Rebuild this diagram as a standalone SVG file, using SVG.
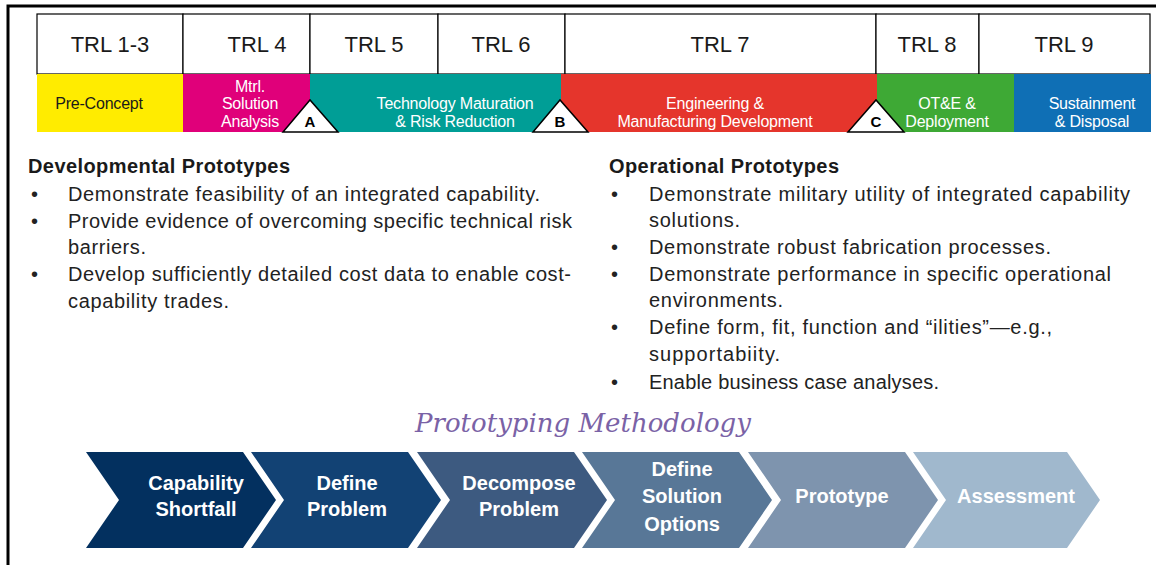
<svg xmlns="http://www.w3.org/2000/svg" width="1156" height="565" viewBox="0 0 1156 565">
<style>
.trl{font-family:"Liberation Sans",Arial,sans-serif;font-size:22px;fill:#1a1a1a;text-anchor:middle}
.band{font-family:"Liberation Sans",Arial,sans-serif;font-size:16px;fill:#fff;text-anchor:middle;letter-spacing:-0.2px}
.tri{fill:#fff;stroke:#000;stroke-width:1.5}
.trit{font-family:"Liberation Sans",Arial,sans-serif;font-size:15px;font-weight:bold;fill:#000;text-anchor:middle}
.h{font-family:"Liberation Sans",Arial,sans-serif;font-size:20px;font-weight:bold;fill:#1a1a1a}
.b{font-family:"Liberation Sans",Arial,sans-serif;font-size:20px;fill:#222}
.title{font-family:"DejaVu Serif","Liberation Serif",serif;font-style:italic;font-size:26px;fill:#7a62a6;text-anchor:middle}
.cv{font-family:"Liberation Sans",Arial,sans-serif;font-size:20px;font-weight:bold;fill:#fff;text-anchor:middle}
.box{fill:#fff;stroke:#000;stroke-width:1.2}
</style>
<rect width="1156" height="565" fill="#fff"/>
<path d="M8 565 V6 H1156" fill="none" stroke="#000" stroke-width="3"/>

<g id="trl-row">
<rect class="box" x="37" y="14" width="146" height="60"/>
<rect class="box" x="183" y="14" width="127" height="60"/>
<rect class="box" x="310" y="14" width="128" height="60"/>
<rect class="box" x="438" y="14" width="127" height="60"/>
<rect class="box" x="565" y="14" width="311" height="60"/>
<rect class="box" x="876" y="14" width="103" height="60"/>
<rect class="box" x="979" y="14" width="171" height="60"/>
<text class="trl" x="110" y="52">TRL 1-3</text>
<text class="trl" x="257" y="52">TRL 4</text>
<text class="trl" x="374" y="52">TRL 5</text>
<text class="trl" x="501" y="52">TRL 6</text>
<text class="trl" x="720" y="52">TRL 7</text>
<text class="trl" x="927" y="52">TRL 8</text>
<text class="trl" x="1064" y="52">TRL 9</text>
</g>

<g id="phase-band">
<rect x="37" y="74" width="146" height="58" fill="#ffec00"/>
<rect x="183" y="74" width="127" height="58" fill="#e0007a"/>
<rect x="310" y="74" width="251" height="58" fill="#009e96"/>
<rect x="561" y="74" width="316" height="58" fill="#e5352c"/>
<rect x="877" y="74" width="137" height="58" fill="#3ea935"/>
<rect x="1014" y="74" width="137" height="58" fill="#0f6fb5"/>
<text class="band" x="99" y="109" style="fill:#1a1a1a">Pre-Concept</text>
<text class="band" x="250" y="92">Mtrl.</text>
<text class="band" x="250" y="109">Solution</text>
<text class="band" x="250" y="127">Analysis</text>
<text class="band" x="455" y="109">Technology Maturation</text>
<text class="band" x="455" y="127">&amp; Risk Reduction</text>
<text class="band" x="715" y="109">Engineering &amp;</text>
<text class="band" x="715" y="127">Manufacturing Development</text>
<text class="band" x="947" y="109">OT&amp;E &amp;</text>
<text class="band" x="947" y="127">Deployment</text>
<text class="band" x="1092" y="109">Sustainment</text>
<text class="band" x="1092" y="127">&amp; Disposal</text>
</g>

<g id="milestone-a"><polygon class="tri" points="283,132 310,100 338,132"/><text class="trit" x="310" y="127">A</text></g>
<g id="milestone-b"><polygon class="tri" points="533,132 560,100 588,132"/><text class="trit" x="560" y="127">B</text></g>
<g id="milestone-c"><polygon class="tri" points="848,132 876,100 904,132"/><text class="trit" x="876" y="127">C</text></g>

<g id="developmental">
<text class="h" x="28" y="173" textLength="262" lengthAdjust="spacing">Developmental Prototypes</text>
<text class="b" x="31" y="201">•</text><text class="b" x="68" y="201" textLength="472" lengthAdjust="spacing">Demonstrate feasibility of an integrated capability.</text>
<text class="b" x="31" y="228">•</text><text class="b" x="68" y="228" textLength="504" lengthAdjust="spacing">Provide evidence of overcoming specific technical risk</text>
<text class="b" x="68" y="254" textLength="78" lengthAdjust="spacing">barriers.</text>
<text class="b" x="31" y="281">•</text><text class="b" x="68" y="281" textLength="503" lengthAdjust="spacing">Develop sufficiently detailed cost data to enable cost-</text>
<text class="b" x="68" y="308" textLength="161" lengthAdjust="spacing">capability trades.</text>
</g>

<g id="operational">
<text class="h" x="609" y="173" textLength="230" lengthAdjust="spacing">Operational Prototypes</text>
<text class="b" x="611" y="201">•</text><text class="b" x="649" y="201" textLength="481" lengthAdjust="spacing">Demonstrate military utility of integrated capability</text>
<text class="b" x="649" y="227" textLength="91" lengthAdjust="spacing">solutions.</text>
<text class="b" x="611" y="254">•</text><text class="b" x="649" y="254" textLength="402" lengthAdjust="spacing">Demonstrate robust fabrication processes.</text>
<text class="b" x="611" y="281">•</text><text class="b" x="649" y="281" textLength="462" lengthAdjust="spacing">Demonstrate performance in specific operational</text>
<text class="b" x="649" y="307" textLength="134" lengthAdjust="spacing">environments.</text>
<text class="b" x="611" y="334">•</text><text class="b" x="649" y="334" textLength="403" lengthAdjust="spacing">Define form, fit, function and “ilities”—e.g.,</text>
<text class="b" x="649" y="361" textLength="131" lengthAdjust="spacing">supportabiity.</text>
<text class="b" x="611" y="389">•</text><text class="b" x="649" y="389" textLength="290" lengthAdjust="spacing">Enable business case analyses.</text>
</g>

<text class="title" x="583" y="432">Prototyping Methodology</text>

<g id="step1"><polygon points="86,452 243,452 276,500 243,548 86,548 119,500" fill="#03305f"/>
<text class="cv" x="196" y="490">Capability</text><text class="cv" x="196" y="516">Shortfall</text></g>
<g id="step2"><polygon points="251,452 408,452 441,500 408,548 251,548 284,500" fill="#124274"/>
<text class="cv" x="347" y="490">Define</text><text class="cv" x="347" y="516">Problem</text></g>
<g id="step3"><polygon points="417,452 574,452 607,500 574,548 417,548 450,500" fill="#3d5a80"/>
<text class="cv" x="519" y="490">Decompose</text><text class="cv" x="519" y="516">Problem</text></g>
<g id="step4"><polygon points="582,452 739,452 772,500 739,548 582,548 615,500" fill="#587797"/>
<text class="cv" x="682" y="476">Define</text><text class="cv" x="682" y="503">Solution</text><text class="cv" x="682" y="531">Options</text></g>
<g id="step5"><polygon points="748,452 905,452 938,500 905,548 748,548 781,500" fill="#7e94ae"/>
<text class="cv" x="842" y="503">Prototype</text></g>
<g id="step6"><polygon points="913,452 1067,452 1100,500 1067,548 913,548 946,500" fill="#a0b8cd"/>
<text class="cv" x="1016" y="503">Assessment</text></g>
</svg>
